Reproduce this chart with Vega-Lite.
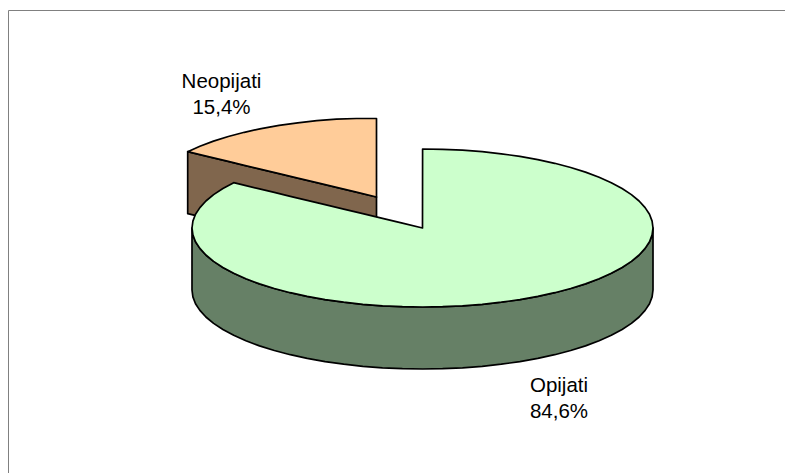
{
"$schema":"https://vega.github.io/schema/vega-lite/v6.json",
"width":785,"height":473,"padding":0,"autosize":{"type":"none"},
"background":"white","view":{"stroke":null},
"datasets":{
"opijati":[
{"x":192,"top":228,"bottom":228,"base":290},
{"x":192.9,"top":221.1,"bottom":234.9,"base":296.9},
{"x":195.5,"top":214.3,"bottom":241.7,"base":303.7},
{"x":199.9,"top":207.6,"bottom":248.4,"base":310.4},
{"x":205.9,"top":201,"bottom":255,"base":317},
{"x":213.6,"top":194.6,"bottom":261.4,"base":323.4},
{"x":222.9,"top":188.5,"bottom":267.5,"base":329.5},
{"x":233.7,"top":182.7,"bottom":273.3,"base":335.3},
{"x":245.9,"top":185.6,"bottom":278.8,"base":340.8},
{"x":259.5,"top":188.9,"bottom":283.9,"base":345.9},
{"x":274.3,"top":192.4,"bottom":288.5,"base":350.5},
{"x":290.3,"top":196.3,"bottom":292.7,"base":354.7},
{"x":307.2,"top":200.3,"bottom":296.4,"base":358.4},
{"x":325.1,"top":204.6,"bottom":299.6,"base":361.6},
{"x":343.7,"top":209.1,"bottom":302.2,"base":364.2},
{"x":362.8,"top":213.7,"bottom":304.3,"base":366.3},
{"x":382.5,"top":218.4,"bottom":305.8,"base":367.8},
{"x":402.4,"top":223.2,"bottom":306.7,"base":368.7},
{"x":422.5,"top":228,"bottom":307,"base":369},
{"x":422.6,"top":149,"bottom":307,"base":369},
{"x":442.6,"top":149.3,"bottom":306.7,"base":368.7},
{"x":462.5,"top":150.2,"bottom":305.8,"base":367.8},
{"x":482.2,"top":151.7,"bottom":304.3,"base":366.3},
{"x":501.3,"top":153.8,"bottom":302.2,"base":364.2},
{"x":519.9,"top":156.4,"bottom":299.6,"base":361.6},
{"x":537.8,"top":159.6,"bottom":296.4,"base":358.4},
{"x":554.7,"top":163.3,"bottom":292.7,"base":354.7},
{"x":570.7,"top":167.5,"bottom":288.5,"base":350.5},
{"x":585.5,"top":172.1,"bottom":283.9,"base":345.9},
{"x":599.1,"top":177.2,"bottom":278.8,"base":340.8},
{"x":611.3,"top":182.7,"bottom":273.3,"base":335.3},
{"x":622.1,"top":188.5,"bottom":267.5,"base":329.5},
{"x":631.4,"top":194.6,"bottom":261.4,"base":323.4},
{"x":639.1,"top":201,"bottom":255,"base":317},
{"x":645.1,"top":207.6,"bottom":248.4,"base":310.4},
{"x":649.5,"top":214.3,"bottom":241.7,"base":303.7},
{"x":652.1,"top":221.1,"bottom":234.9,"base":296.9},
{"x":653,"top":228,"bottom":228,"base":290}
],
"neopijati":[
{"x":187.7,"top":151.7,"bottom":151.7},
{"x":199.9,"top":146.2,"bottom":154.6},
{"x":213.5,"top":141.1,"bottom":157.9},
{"x":228.3,"top":136.5,"bottom":161.4},
{"x":244.3,"top":132.3,"bottom":165.3},
{"x":261.2,"top":128.6,"bottom":169.3},
{"x":279.1,"top":125.4,"bottom":173.6},
{"x":297.7,"top":122.8,"bottom":178.1},
{"x":316.8,"top":120.7,"bottom":182.7},
{"x":336.5,"top":119.2,"bottom":187.4},
{"x":356.4,"top":118.5,"bottom":192.2},
{"x":376.5,"top":118.5,"bottom":197}
],
"neopijatiSide":[
{"x":187.7,"top":151.7,"bottom":213.7},
{"x":376.5,"top":197,"bottom":259}
],
"labels":[
{"x":221.5,"y":88,"text":"Neopijati"},
{"x":221.5,"y":114,"text":"15,4%"},
{"x":559,"y":392,"text":"Opijati"},
{"x":559,"y":418,"text":"84,6%"}
],
"frameTop":[{"x":8.5,"x2":785,"y":10.5}],
"frameLeft":[{"x":8.5,"y":10.5,"y2":473}]
},
"layer":[
{"data":{"name":"frameTop"},"mark":{"type":"rule","color":"#808080","strokeWidth":1},
 "encoding":{"x":{"field":"x","type":"quantitative","scale":{"domain":[0,785],"nice":false,"zero":false},"axis":null},"x2":{"field":"x2"},
 "y":{"field":"y","type":"quantitative","scale":{"domain":[473,0],"nice":false,"zero":false},"axis":null}}},
{"data":{"name":"frameLeft"},"mark":{"type":"rule","color":"#808080","strokeWidth":1},
 "encoding":{"x":{"field":"x","type":"quantitative","axis":null},
 "y":{"field":"y","type":"quantitative","axis":null},"y2":{"field":"y2"}}},
{"data":{"name":"neopijatiSide"},"mark":{"type":"area","fill":"#80664D","stroke":"black","strokeWidth":1.7,"strokeJoin":"round","fillOpacity":1},
 "encoding":{"x":{"field":"x","type":"quantitative","axis":null},
 "y":{"field":"top","type":"quantitative","axis":null},"y2":{"field":"bottom"}}},
{"data":{"name":"neopijati"},"mark":{"type":"area","fill":"#FFCC99","stroke":"black","strokeWidth":1.7,"strokeJoin":"round","fillOpacity":1},
 "encoding":{"x":{"field":"x","type":"quantitative","axis":null},
 "y":{"field":"top","type":"quantitative","axis":null},"y2":{"field":"bottom"}}},
{"data":{"name":"opijati"},"mark":{"type":"area","fill":"#668066","stroke":"black","strokeWidth":1.7,"strokeJoin":"round","fillOpacity":1},
 "encoding":{"x":{"field":"x","type":"quantitative","axis":null},
 "y":{"field":"bottom","type":"quantitative","axis":null},"y2":{"field":"base"}}},
{"data":{"name":"opijati"},"mark":{"type":"area","fill":"#CCFFCC","stroke":"black","strokeWidth":1.7,"strokeJoin":"round","fillOpacity":1},
 "encoding":{"x":{"field":"x","type":"quantitative","axis":null},
 "y":{"field":"top","type":"quantitative","axis":null},"y2":{"field":"bottom"}}},
{"data":{"name":"labels"},"mark":{"type":"text","font":"Liberation Sans","fontSize":20.5,"color":"#000000","align":"center","baseline":"alphabetic"},
 "encoding":{"x":{"field":"x","type":"quantitative","axis":null},
 "y":{"field":"y","type":"quantitative","axis":null},"text":{"field":"text"}}}
]
}
